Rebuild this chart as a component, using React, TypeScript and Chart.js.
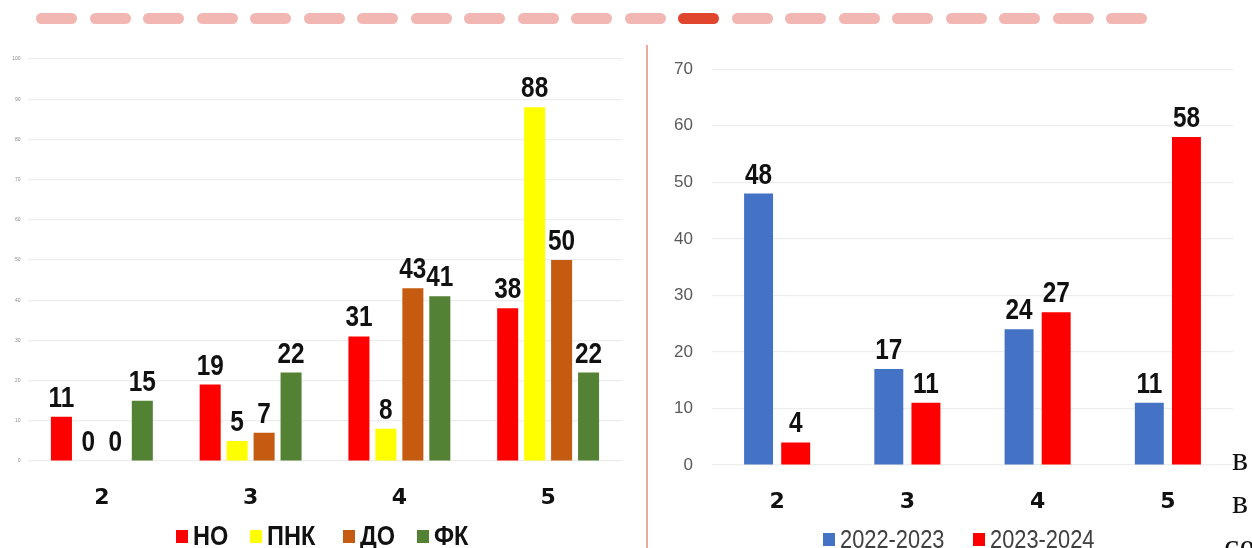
import React, { useEffect, useRef } from "react";
import { Chart, registerables } from "chart.js";

Chart.register(...registerables);

// ---------- data ----------
const gradeLabels = ["2", "3", "4", "5"];

const leftSeriesNames = ["НО", "ПНК", "ДО", "ФК"];
const noValues = [11, 19, 31, 38];
const pnkValues = [0, 5, 8, 88];
const doValues = [0, 7, 43, 50];
const fkValues = [15, 22, 41, 22];
const leftColors = ["#ff0000", "#ffff00", "#c55a11", "#548235"];
const leftMax = 100;
const leftStep = 10;

const rightSeriesNames = ["2022-2023", "2023-2024"];
const year1Values = [48, 17, 24, 11];
const year2Values = [4, 11, 27, 58];
const rightColors = ["#4472c4", "#ff0000"];
const rightMax = 70;
const rightStep = 10;

const pillCount = 21;
const activePill = 12;

const SANS = "'Liberation Sans', Arial, sans-serif";
const SQUEEZE = 0.84;

// layout of the HTML legends (x of each swatch)
const leftLegendX = [176, 250, 343, 417];
const rightLegendX = [823, 973];

// ---------- plugin: value labels above bars ----------
const valueLabels = {
  id: "valueLabels",
  afterDatasetsDraw(chart: any) {
    const ctx = chart.ctx;
    chart.data.datasets.forEach((ds: any, i: number) => {
      const meta = chart.getDatasetMeta(i);
      meta.data.forEach((bar: any, j: number) => {
        ctx.save();
        ctx.font = `bold 29px ${SANS}`;
        ctx.fillStyle = "#111111";
        ctx.textAlign = "center";
        ctx.textBaseline = "alphabetic";
        ctx.translate(bar.x, bar.y - 10);
        ctx.scale(SQUEEZE, 1);
        ctx.fillText(String(ds.data[j]), 0, 0);
        ctx.restore();
      });
    });
  },
};

function makeOptions(cfg: {
  max: number;
  step: number;
  yWidth: number;
  xHeight: number;
  padTop: number;
  padRight: number;
  yFont: any;
  yColor: string;
  yPad: number;
  cp: number;
}) {
  return {
    responsive: false,
    animation: false,
    layout: { padding: { top: cfg.padTop, right: cfg.padRight, left: 0, bottom: 0 } },
    plugins: { legend: { display: false }, tooltip: { enabled: false } },
    datasets: { bar: { categoryPercentage: cfg.cp, barPercentage: 0.78 } },
    scales: {
      x: {
        grid: { display: false, drawTicks: false },
        border: { display: false },
        ticks: {
          color: "#111111",
          font: { family: "'DejaVu Sans', sans-serif", weight: "bold", size: 22 },
          padding: 24,
        },
        afterFit: (s: any) => {
          s.height = cfg.xHeight;
        },
      },
      y: {
        min: 0,
        max: cfg.max,
        grid: { color: "#ededed", drawTicks: false, lineWidth: 1.2 },
        border: { display: false },
        ticks: {
          stepSize: cfg.step,
          color: cfg.yColor,
          font: cfg.yFont,
          padding: cfg.yPad,
        },
        afterFit: (s: any) => {
          s.width = cfg.yWidth;
        },
      },
    },
  };
}

function LeftChart() {
  const ref = useRef<HTMLCanvasElement | null>(null);
  useEffect(() => {
    const seriesValues = [noValues, pnkValues, doValues, fkValues];
    const chart = new Chart(ref.current as HTMLCanvasElement, {
      type: "bar",
      data: {
        labels: gradeLabels,
        datasets: leftSeriesNames.map((name, i) => ({
          label: name,
          data: seriesValues[i],
          backgroundColor: leftColors[i],
          borderWidth: 0,
        })),
      },
      options: makeOptions({
        max: leftMax,
        step: leftStep,
        yWidth: 27.5,
        xHeight: 59,
        padTop: 19,
        padRight: 17.5,
        yFont: { size: 5, family: SANS },
        yColor: "#8a8a8a",
        yPad: 7,
        cp: 0.725,
      }) as any,
      plugins: [valueLabels],
    });
    return () => chart.destroy();
  }, []);
  return <canvas ref={ref} width={640} height={480} style={{ position: "absolute", left: 0, top: 40 }} />;
}

function RightChart() {
  const ref = useRef<HTMLCanvasElement | null>(null);
  useEffect(() => {
    const seriesValues = [year1Values, year2Values];
    const chart = new Chart(ref.current as HTMLCanvasElement, {
      type: "bar",
      data: {
        labels: gradeLabels,
        datasets: rightSeriesNames.map((name, i) => ({
          label: name,
          data: seriesValues[i],
          backgroundColor: rightColors[i],
          borderWidth: 0,
        })),
      },
      options: makeOptions({
        max: rightMax,
        step: rightStep,
        yWidth: 62,
        xHeight: 55,
        padTop: 25,
        padRight: 19,
        yFont: { size: 17, family: SANS },
        yColor: "#595959",
        yPad: 19,
        cp: 0.57,
      }) as any,
      plugins: [valueLabels],
    });
    return () => chart.destroy();
  }, []);
  return <canvas ref={ref} width={602} height={480} style={{ position: "absolute", left: 650, top: 40 }} />;
}

function LegendItem({
  x,
  top,
  color,
  text,
  bold,
  textColor,
  size,
}: {
  x: number;
  top: number;
  color: string;
  text: string;
  bold: boolean;
  textColor: string;
  size: number;
}) {
  return (
    <div style={{ position: "absolute", left: x, top, display: "flex", alignItems: "center", whiteSpace: "nowrap" }}>
      <div style={{ width: 12, height: 13, background: color, marginRight: 5, flex: "none" }} />
      <span
        style={{
          display: "inline-block",
          fontFamily: SANS,
          fontWeight: bold ? "bold" : "normal",
          fontSize: size,
          color: textColor,
          lineHeight: "30px",
          transform: `scaleX(${SQUEEZE})`,
          transformOrigin: "left center",
        }}
      >
        {text}
      </span>
    </div>
  );
}

export default function App() {
  return (
    <div
      style={{
        position: "fixed",
        left: 0,
        top: 0,
        width: 1252,
        height: 548,
        background: "#ffffff",
        overflow: "hidden",
      }}
    >
      {/* decorative pill row */}
      {Array.from({ length: pillCount }).map((_, i) => (
        <div
          key={i}
          style={{
            position: "absolute",
            left: 36 + i * 53.5,
            top: 13,
            width: 41,
            height: 11,
            borderRadius: 6,
            background: i === activePill ? "#e0452e" : "#f2b6b3",
            filter: "blur(0.6px)",
          }}
        />
      ))}

      {/* divider */}
      <div style={{ position: "absolute", left: 646, top: 45, width: 2, height: 503, background: "#ebab9c" }} />

      <LeftChart />
      <RightChart />

      {/* legends */}
      {leftSeriesNames.map((n, i) => (
        <LegendItem key={n} x={leftLegendX[i]} top={521} color={leftColors[i]} text={n} bold={true} textColor="#111111" size={28} />
      ))}
      {rightSeriesNames.map((n, i) => (
        <LegendItem key={n} x={rightLegendX[i]} top={524} color={rightColors[i]} text={n} bold={false} textColor="#404040" size={26} />
      ))}

      {/* page text fragments at right edge */}
      <div style={{ position: "absolute", left: 1232, top: 440, fontFamily: "'Liberation Serif', serif", fontSize: 34, color: "#111" }}>в</div>
      <div style={{ position: "absolute", left: 1232, top: 483, fontFamily: "'Liberation Serif', serif", fontSize: 34, color: "#111" }}>в</div>
      <div style={{ position: "absolute", left: 1224, top: 527, fontFamily: "'Liberation Serif', serif", fontSize: 34, color: "#111" }}>се</div>
    </div>
  );
}
